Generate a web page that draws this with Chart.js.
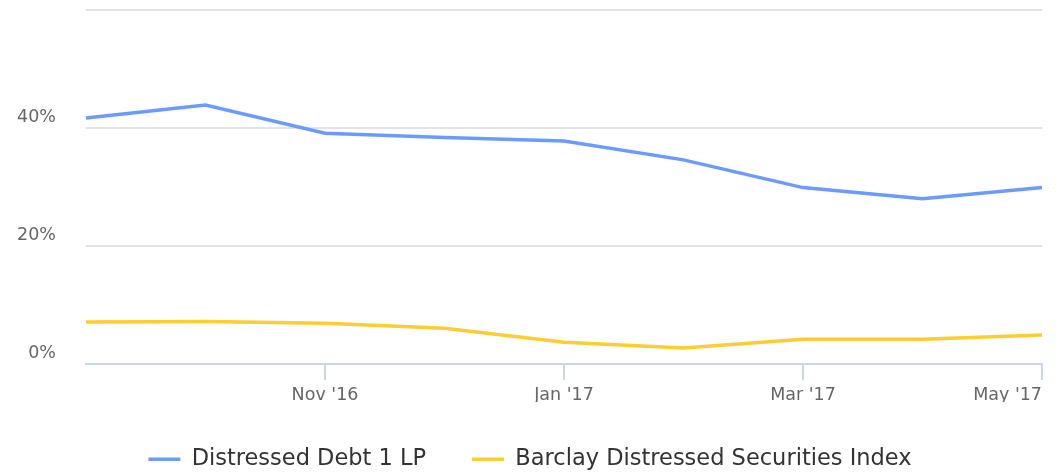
<!DOCTYPE html>
<html>
<head>
<meta charset="utf-8">
<script src="https://cdn.jsdelivr.net/npm/chart.js@4"></script>
<style>
  html, body { margin: 0; padding: 0; background: #ffffff; }
  #wrap { width: 1060px; height: 472px; }
</style>
</head>
<body>
<div id="wrap"><canvas id="c" width="1060" height="472"></canvas></div>
<script>
const months = ["Sep '16", "Oct '16", "Nov '16", "Dec '16", "Jan '17", "Feb '17", "Mar '17", "Apr '17", "May '17"];
const tickLabels = ["Nov '16", "Jan '17", "Mar '17", "May '17"];
const distressedDebt = [41.7, 43.9, 39.1, 38.4, 37.8, 34.6, 29.9, 28.0, 29.9];
const barclayIndex = [7.1, 7.2, 6.9, 6.05, 3.7, 2.7, 4.2, 4.2, 4.9];
const yTicks = [0, 20, 40];

const legendHeightPlugin = {
  id: 'legendHeight',
  beforeUpdate(chart) {
    const lg = chart.legend;
    if (lg && !lg._patched) {
      const orig = lg.fit.bind(lg);
      lg.fit = function () { orig(); this.height = 70; };
      lg._patched = true;
    }
  }
};

new Chart(document.getElementById('c'), {
  type: 'line',
  data: {
    labels: months,
    datasets: [
      { label: 'Distressed Debt 1 LP', data: distressedDebt, borderColor: '#6b9bff', backgroundColor: '#6b9bff', borderWidth: 3.5, pointRadius: 0, tension: 0 },
      { label: 'Barclay Distressed Securities Index', data: barclayIndex, borderColor: '#ffcc33', backgroundColor: '#ffcc33', borderWidth: 3.5, pointRadius: 0, tension: 0 }
    ]
  },
  options: {
    responsive: false,
    animation: false,
    layout: { padding: { top: 10, right: 0, left: 0, bottom: 0 } },
    plugins: {
      tooltip: { enabled: false },
      legend: {
        position: 'bottom',
        labels: {
          usePointStyle: true,
          pointStyle: 'line',
          pointStyleWidth: 32,
          boxHeight: 23,
          padding: 46,
          color: '#333333',
          font: { family: 'DejaVu Sans', size: 22.5 }
        }
      }
    },
    scales: {
      x: {
        type: 'category',
        offset: false,
        grid: {
          drawOnChartArea: false,
          drawTicks: true,
          tickLength: 16,
          lineWidth: 2,
          color: (c) => (c.tick && tickLabels.includes(months[c.index])) ? '#ccd6eb' : 'rgba(0,0,0,0)',
          tickColor: (c) => (c.tick && tickLabels.includes(months[c.index])) ? '#ccd6eb' : 'rgba(0,0,0,0)'
        },
        border: { display: true, color: '#ccd6eb', width: 2 },
        ticks: {
          autoSkip: false,
          maxRotation: 0,
          minRotation: 0,
          align: 'inner',
          padding: 5,
          color: '#666666',
          font: { family: 'DejaVu Sans', size: 17.5 },
          callback: function (v, i) { const l = months[i]; return tickLabels.includes(l) ? l : ''; }
        },
        afterFit(scale) { scale.height = 38; scale.paddingLeft = 0; scale.paddingRight = 18; }
      },
      y: {
        min: 0,
        max: 60,
        ticks: {
          stepSize: 20,
          padding: 30,
          labelOffset: -11,
          color: '#666666',
          font: { family: 'DejaVu Sans', size: 17.5 },
          callback: (v) => yTicks.includes(v) ? v + '%' : ''
        },
        grid: {
          drawTicks: false,
          lineWidth: 2,
          color: (c) => (c.tick && c.tick.value === 0) ? 'rgba(0,0,0,0)' : '#e3e3e3'
        },
        border: { display: false },
        afterFit(scale) { scale.width = 86; scale.paddingTop = 0; scale.paddingBottom = 0; }
      }
    }
  },
  plugins: [legendHeightPlugin]
});
</script>
</body>
</html>
